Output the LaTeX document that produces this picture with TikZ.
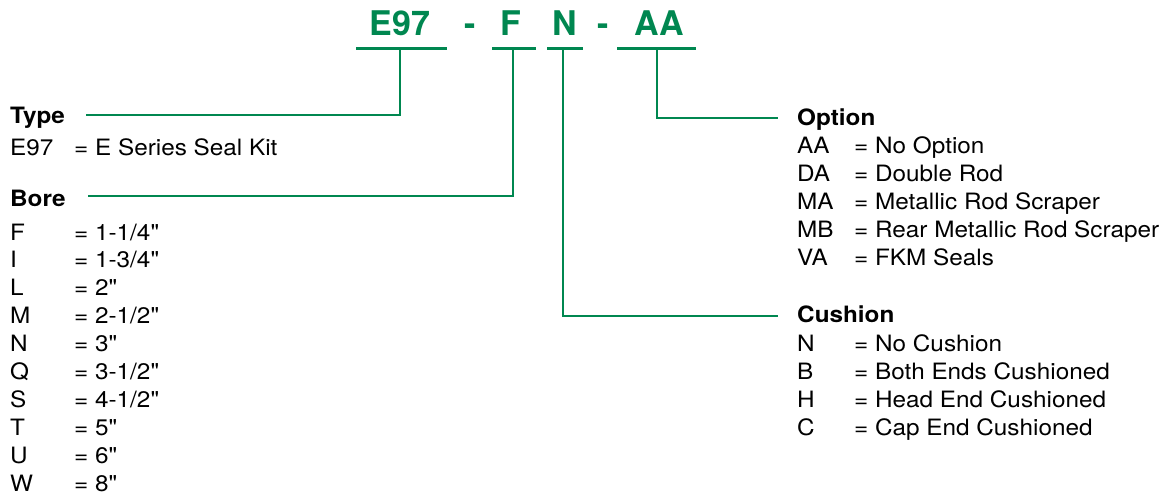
\documentclass[tikz,border=0pt]{standalone}
\usepackage{fontspec}
\setmainfont{TeX Gyre Heros}[FakeStretch=1.08]
\newfontfamily\titlefont{TeX Gyre Heros}
\newfontfamily\quotefont{TeX Gyre Heros}[FakeStretch=1.08]
\newcommand{\inch}{{\quotefont\symbol{34}}}
\definecolor{pgreen}{RGB}{0,135,80}
\tikzset{
  title/.style={text=pgreen, font=\titlefont\fontsize{34}{34}\selectfont\bfseries, inner sep=0pt, anchor=base},
  head/.style={font=\fontsize{22.5}{26}\selectfont\bfseries, inner sep=0pt, anchor=base west},
  item/.style={font=\fontsize{22.5}{26}\selectfont, inner sep=0pt, anchor=base west},
  uline/.style={draw=pgreen, line width=3pt},
  conn/.style={draw=pgreen, line width=1.3pt}
}
\begin{document}
\begin{tikzpicture}[x=1pt,y=-1pt]
\useasboundingbox (0,0) rectangle (1169,495);
% title code
\node[title] (tE97) at (400,36) {E97};
\node[title] (td1) at (470,36) {-};
\node[title] (tF) at (511,36) {F};
\node[title] (tN) at (565,36) {N};
\node[title] (td2) at (603,36) {-};
\node[title] (tAA) at (659,36) {AA};
% underlines
\coordinate (uE97a) at (356,49); \coordinate (uE97b) at (447,49);
\coordinate (uFa) at (492,49); \coordinate (uFb) at (536,49);
\coordinate (uNa) at (547,49); \coordinate (uNb) at (583,49);
\coordinate (uAAa) at (617,49); \coordinate (uAAb) at (696,49);
\draw[uline] (uE97a) -- (uE97b);
\draw[uline] (uFa) -- (uFb);
\draw[uline] (uNa) -- (uNb);
\draw[uline] (uAAa) -- (uAAb);
\coordinate (uE97) at (400,49);
\coordinate (uF) at (513,49);
\coordinate (uN) at (563,49);
\coordinate (uAA) at (657,49);
% left: Type
\node[head] (type) at (10,123) {Type};
\node[item] (typek) at (10,155) {E97};
\node[item] (typev) at (74,155) {= E Series Seal Kit};
\coordinate (typeEnd) at (86,115);
% left: Bore
\node[head] (bore) at (10,206) {Bore};
\coordinate (boreEnd) at (88,196);
\foreach \k/\v [count=\i from 0] in {F/{1-1/4\inch},I/{1-3/4\inch},L/{2\inch},M/{2-1/2\inch},N/{3\inch},Q/{3-1/2\inch},S/{4-1/2\inch},T/{5\inch},U/{6\inch},W/{8\inch}}{
  \node[item] (borek\i) at (10,240+27.9*\i) {\k};
  \node[item] (borev\i) at (74,240+27.9*\i) {= \v};
}
% right: Option
\node[head] (option) at (797,125) {Option};
\coordinate (optEnd) at (778,118);
\foreach \k/\v [count=\i from 0] in {AA/No Option,DA/Double Rod,MA/Metallic Rod Scraper,MB/Rear Metallic Rod Scraper,VA/FKM Seals}{
  \node[item] (optk\i) at (797,153+28*\i) {\k};
  \node[item] (optv\i) at (854,153+28*\i) {= \v};
}
% right: Cushion
\node[head] (cushion) at (797,322) {Cushion};
\coordinate (cushEnd) at (778,316);
\foreach \k/\v [count=\i from 0] in {N/No Cushion,B/Both Ends Cushioned,H/Head End Cushioned,C/Cap End Cushioned}{
  \node[item] (cushk\i) at (797,351+28*\i) {\k};
  \node[item] (cushv\i) at (854,351+28*\i) {= \v};
}
% connectors
\draw[conn] (uE97) |- (typeEnd);
\draw[conn] (uF) |- (boreEnd);
\draw[conn] (uN) |- (cushEnd);
\draw[conn] (uAA) |- (optEnd);
\end{tikzpicture}
\end{document}
